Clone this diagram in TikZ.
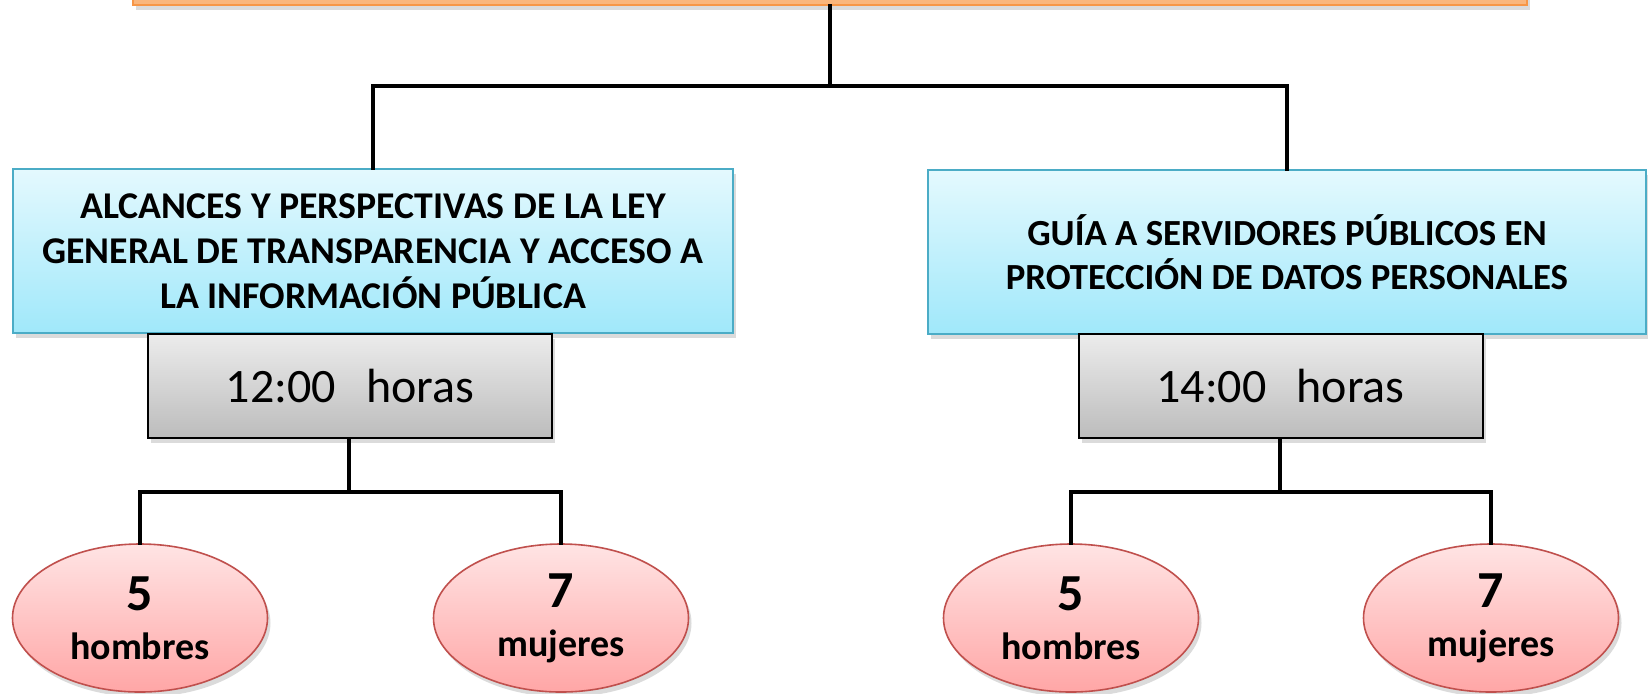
\documentclass[tikz,border=0pt]{standalone}
\usepackage{fontspec}
\setmainfont{Carlito}
\usetikzlibrary{shapes.geometric,shadows}
\definecolor{orfill}{RGB}{250,182,124}
\definecolor{ordraw}{RGB}{247,150,70}
\definecolor{bltop}{RGB}{228,249,254}
\definecolor{blbot}{RGB}{160,232,250}
\definecolor{bldraw}{RGB}{75,172,198}
\definecolor{grtop}{RGB}{236,236,236}
\definecolor{grbot}{RGB}{188,188,188}
\definecolor{pktop}{RGB}{255,228,228}
\definecolor{pkbot}{RGB}{255,166,166}
\definecolor{pkdraw}{RGB}{192,80,77}
\tikzset{
  shad/.style={drop shadow={opacity=0.28,shadow xshift=1.5pt,shadow yshift=-2.5pt}},
  topbox/.style={rectangle,draw=ordraw,line width=1pt,fill=orfill,minimum width=697pt,minimum height=32pt,inner sep=0pt,shad},
  bluebox/.style={rectangle,draw=bldraw,line width=1pt,top color=bltop,bottom color=blbot,minimum height=82pt,inner sep=0pt,align=center,shad},
  graybox/.style={rectangle,draw=black,line width=1pt,top color=grtop,bottom color=grbot,minimum width=202pt,minimum height=52pt,inner sep=0pt,font=\fontsize{24}{28}\selectfont,shad},
  pinkell/.style={ellipse,draw=pkdraw,line width=0.8pt,top color=pktop,bottom color=pkbot,minimum width=127.5pt,minimum height=74pt,inner sep=0pt,align=center,font=\bfseries\fontsize{19}{24.5}\selectfont,shad},
  conn/.style={line width=2pt,line cap=rect}
}
\newcommand{\cnt}[2]{{\fontsize{26}{24.5}\selectfont #1}\\#2}
\begin{document}
\begin{tikzpicture}[x=0.5pt,y=-0.5pt]
\useasboundingbox (0,0) rectangle (1648,693);
\clip (0,0) rectangle (1648,693);
\fill[white] (0,0) rectangle (1648,693);
% nodes
\node[topbox] (top) at (830,-27) {};
\node[bluebox,minimum width=360pt,font=\bfseries\fontsize{18.9}{22.5}\selectfont] (L) at (373,251) {ALCANCES Y PERSPECTIVAS DE LA LEY\\GENERAL DE TRANSPARENCIA Y ACCESO A\\LA INFORMACIÓN PÚBLICA};
\node[bluebox,minimum width=359pt,font=\bfseries\fontsize{18.4}{22}\selectfont] (R) at (1287,252) {GUÍA A SERVIDORES PÚBLICOS EN\\PROTECCIÓN DE DATOS PERSONALES};
\node[graybox] (gL) at (350,386) {12:00\hspace{15pt}horas};
\node[graybox] (gR) at (1280.5,386) {14:00\hspace{15pt}horas};
\node[pinkell] (e1) at (140,618) {\cnt{5}{hombres}};
\node[pinkell] (e2) at (561,618) {\cnt{7}{mujeres}};
\node[pinkell] (e3) at (1071,618) {\cnt{5}{hombres}};
\node[pinkell] (e4) at (1491,618) {\cnt{7}{mujeres}};
% junctions
\coordinate (j0) at (830,86);
\coordinate (jL) at (349,492);
\coordinate (jR) at (1280,492);
% connectors
\draw[conn] (top.south) -- (j0) -| (L.north);
\draw[conn] (j0) -| (R.north);
\draw[conn] (gL.south -| jL) -- (jL) -| (e1.north);
\draw[conn] (jL) -| (e2.north);
\draw[conn] (gR.south -| jR) -- (jR) -| (e3.north);
\draw[conn] (jR) -| (e4.north);
\end{tikzpicture}
\end{document}
